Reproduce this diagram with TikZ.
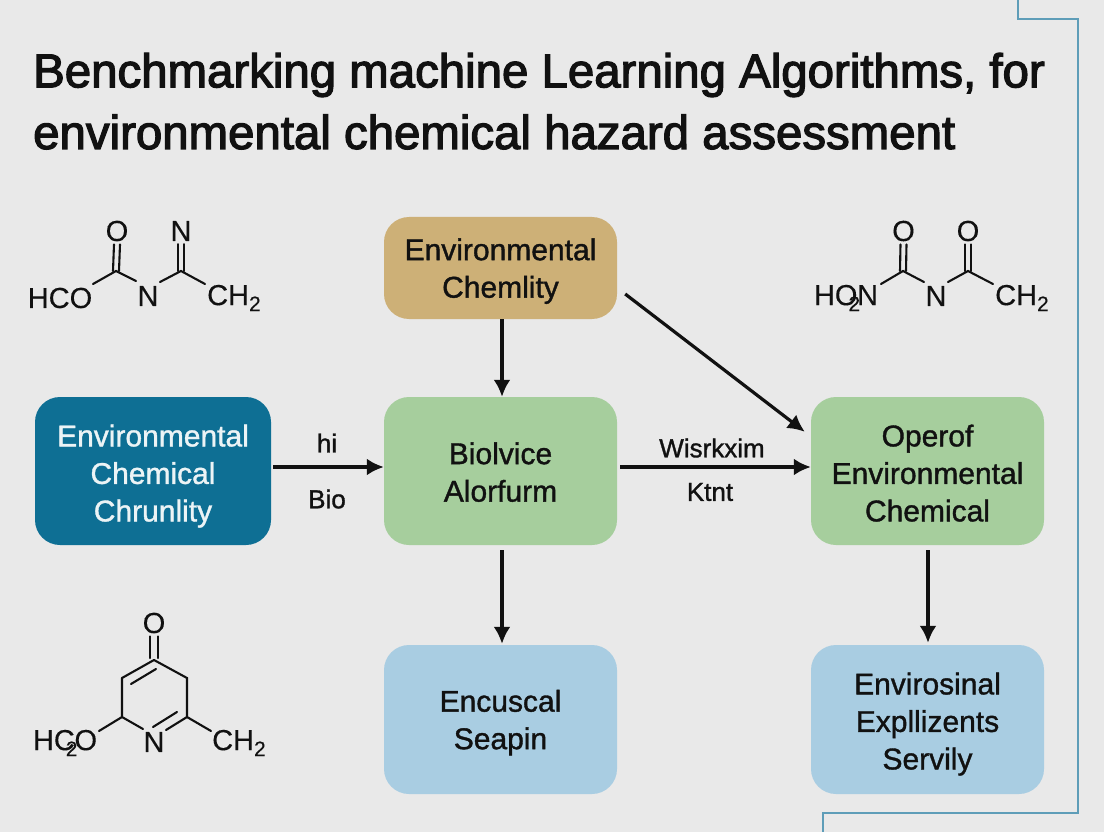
\documentclass[tikz,border=0pt]{standalone}
\usepackage{fontspec}
\setmainfont{Liberation Sans}
\newfontfamily\ttlfont[FakeBold=2.6]{Liberation Sans}
\newfontfamily\boxfont[FakeBold=1.2]{Liberation Sans}
\newfontfamily\molfont[FakeBold=0.2]{Liberation Sans}
\usetikzlibrary{arrows.meta,calc}
\definecolor{bgc}{HTML}{E9E9E9}
\definecolor{teal}{HTML}{0E6F94}
\definecolor{tan}{HTML}{CDB077}
\definecolor{grn}{HTML}{A6CE9D}
\definecolor{blu}{HTML}{A9CDE2}
\definecolor{edgec}{HTML}{5E9DB8}
\definecolor{ink}{HTML}{111111}
\newcommand{\firstln}[1]{\rule{0pt}{#1pt}}
\tikzset{
  x=1pt,y=-1pt,
  flowbox/.style={rounded corners=25pt,minimum width=233pt,inner sep=0pt,align=center,
    font=\boxfont\fontsize{30}{37.5}\selectfont,text=ink},
  arr/.style={draw=ink,line width=3.2pt,-{Latex[length=17pt,width=17pt]}},
  lab/.style={font=\boxfont\fontsize{26}{30}\selectfont,text=ink,inner sep=0pt},
  mol/.style={font=\molfont\fontsize{29}{30}\selectfont,text=ink,inner sep=0pt},
  bond/.style={draw=ink,line width=2.1pt,line cap=round},
  edgeline/.style={draw=edgec,line width=2.6pt},
}
\begin{document}
\begin{tikzpicture}
\useasboundingbox (0,0) rectangle (1104,832);
\fill[bgc] (0,0) rectangle (1104,832);
% frame
\coordinate (f1) at (1018,0);\coordinate (f2) at (1018,19);\coordinate (f3) at (1078,19);
\coordinate (f4) at (1078,813);\coordinate (f5) at (823,813);\coordinate (f6) at (823,832);
\draw[edgeline] (f1)--(f2)--(f3)--(f4)--(f5)--(f6);
% title
\node[anchor=west,inner sep=0pt,font=\ttlfont\fontsize{47.4}{50}\selectfont,text=ink] (t1) at (33,75) {Benchmarking machine Learning Algorithms, for};
\node[anchor=west,inner sep=0pt,font=\ttlfont\fontsize{47.4}{50}\selectfont,text=ink] (t2) at (33,132) {environmental chemical hazard assessment};
% boxes
\node[flowbox,fill=tan,minimum height=102pt] (top) at (500.5,268) {\firstln{28}Environmental\\Chemlity};
\node[flowbox,fill=teal,minimum width=236pt,minimum height=148pt,text=white!92!teal] (left) at (153,471) {\firstln{32}Environmental\\Chemical\\Chrunlity};
\node[flowbox,fill=grn,minimum height=148pt] (mid) at (500.5,471) {\firstln{24}Biolvice\\Alorfurm};
\node[flowbox,fill=grn,minimum height=148pt] (right) at (927.5,471) {\firstln{26}Operof\\Environmental\\Chemical};
\node[flowbox,fill=blu,minimum height=149pt] (botm) at (500.5,719.5) {\firstln{28}Encuscal\\Seapin};
\node[flowbox,fill=blu,minimum height=149pt] (botr) at (927.5,719.5) {\firstln{31}Envirosinal\\Expllizents\\Servily};
% connectors
\coordinate (a1) at ($(left.east)+(2,-4)$);\coordinate (a2) at ($(mid.west)+(0,-4)$);
\draw[arr] (a1)--(a2);
\coordinate (b1) at ($(mid.east)+(3,-4)$);\coordinate (b2) at ($(right.west)+(0,-4)$);
\draw[arr] (b1)--(b2);
\coordinate (c1) at ($(top.south)+(1.5,0)$);\coordinate (c2) at ($(mid.north)+(1.5,0)$);
\draw[arr] (c1)--(c2);
\coordinate (d1) at ($(mid.south)+(1.5,5)$);\coordinate (d2) at ($(botm.north)+(1.5,-1)$);
\draw[arr] (d1)--(d2);
\coordinate (e1) at ($(right.south)+(0.5,5)$);\coordinate (e2) at ($(botr.north)+(0.5,-2)$);
\draw[arr] (e1)--(e2);
\coordinate (g1) at ($(top.east)+(8,26)$);\coordinate (g2) at ($(right.north west)+(-6,35)$);
\draw[arr] (g1)--(g2);
% labels
\node[lab] (l1) at (327,443) {hi};
\node[lab] (l2) at (327,499) {Bio};
\node[lab] (l3) at (712,448) {Wisrkxim};
\node[lab] (l4) at (710,492) {Ktnt};
% molecule 1
\node[mol] (m1a) at (60,298) {HCO};
\node[mol] (m1b) at (117,231) {O};
\node[mol] (m1c) at (148,296) {N};
\node[mol] (m1d) at (181,231) {N};
\node[mol,anchor=west] (m1e) at (207,298) {CH\raisebox{-6pt}{\fontsize{21}{21}\selectfont 2}};
\coordinate (v1) at (116,271);\coordinate (v2) at (181,271);
\draw[bond] (93,284)--(v1)--(136,281);
\draw[bond] (160,282)--(v2)--(205,284);
\draw[bond] ($(v1)+(-3,0)$)--($(m1b.south)+(-3,3)$);
\draw[bond] ($(v1)+(3,0)$)--($(m1b.south)+(3,3)$);
\draw[bond] ($(v2)+(-3,0)$)--($(m1d.south)+(-3,3)$);
\draw[bond] ($(v2)+(3,0)$)--($(m1d.south)+(3,3)$);
% molecule 2
\node[mol] (m2a) at (846,298) {HO\kern-9pt\raisebox{-6pt}{\fontsize{21}{21}\selectfont 2}\kern-3pt N};
\node[mol] (m2b) at (903.5,231) {O};
\node[mol] (m2c) at (936,296) {N};
\node[mol] (m2d) at (968,231) {O};
\node[mol,anchor=west] (m2e) at (995,298) {CH\raisebox{-6pt}{\fontsize{21}{21}\selectfont 2}};
\coordinate (v3) at (903,271);\coordinate (v4) at (968,271);
\draw[bond] (881,284)--(v3)--(924,282);
\draw[bond] (948,282)--(v4)--(993,284);
\draw[bond] ($(v3)+(-3,0)$)--($(m2b.south)+(-3,3)$);
\draw[bond] ($(v3)+(3,0)$)--($(m2b.south)+(3,3)$);
\draw[bond] ($(v4)+(-3,0)$)--($(m2d.south)+(-3,3)$);
\draw[bond] ($(v4)+(3,0)$)--($(m2d.south)+(3,3)$);
% molecule 3
\node[mol] (m3a) at (65,743) {HC\kern-9pt\raisebox{-6pt}{\fontsize{21}{21}\selectfont 2}\kern-3pt O};
\node[mol] (m3b) at (154,623) {O};
\node[mol] (m3c) at (154,742) {N};
\node[mol,anchor=west] (m3e) at (212,743) {CH\raisebox{-6pt}{\fontsize{21}{21}\selectfont 2}};
\coordinate (r1) at (154,660);\coordinate (r2) at (187,678);\coordinate (r3) at (187,717);
\coordinate (r4) at (122,717);\coordinate (r5) at (122,678);
\draw[bond] (r1)--(r2)--(r3);
\draw[bond] (r5)--(r1);
\draw[bond] (r5)--(r4)--(143,729);
\draw[bond] (99,731)--(r4);
\draw[bond] (r3)--(211,731);
\draw[bond] (r3)--(166,730);
\draw[bond] (153,727)--(177,712);
\draw[bond] (131,684)--(156,669);
\draw[bond] ($(r1)+(-4,-2)$)--($(m3b.south)+(-4,3)$);
\draw[bond] ($(r1)+(4,-2)$)--($(m3b.south)+(4,3)$);
\end{tikzpicture}
\end{document}
